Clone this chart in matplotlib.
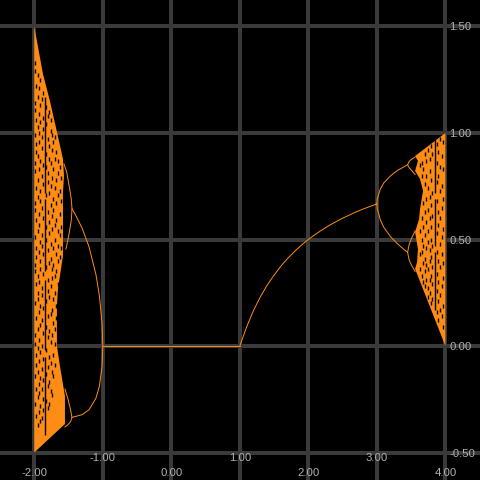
import matplotlib
matplotlib.use("Agg")
import matplotlib.pyplot as plt

ORANGE = '#ff8c14'
GRID = '#3a3a3a'
LABEL = '#b0b0b0'

x_ticks = [-2, -1, 0, 1, 2, 3, 4]
y_ticks = [-0.5, 0, 0.5, 1, 1.5]

# chaotic bands, outlines
left_band_r = [-2.0, -1.873, -1.771, -1.669, -1.581, -1.566, -1.581, -1.581, -1.581, -1.581,
               -1.654, -1.669, -1.669, -1.625, -1.552, -1.552, -2.0]
left_band_y = [1.5, 1.277, 1.15, 1.005, 0.878, 0.798, 0.723, 0.629, 0.535, 0.423,
               0.268, 0.188, 0.0, -0.094, -0.235, -0.366, -0.5]
right_band_r = [3.558, 4.0, 4.0, 3.558, 3.587, 3.6, 3.558, 3.616, 3.63, 3.674, 3.63, 3.558, 3.6]
right_band_y = [0.892, 1.0, 0.0, 0.362, 0.394, 0.455, 0.535, 0.596, 0.643, 0.728, 0.784, 0.822, 0.869]

# stable branches
fixed_r = [-1.0, 1.0]
fixed_y = [0.0, 0.0]
rise_r = [1.0, 1.1, 1.2, 1.3, 1.4, 1.5, 1.6, 1.7, 1.8, 1.9, 2.0, 2.1, 2.2, 2.3, 2.4, 2.5, 2.6, 2.7, 2.8, 2.9, 3.0]
rise_y = [0.0, 0.09, 0.167, 0.231, 0.286, 0.333, 0.375, 0.412, 0.444, 0.474, 0.5, 0.524, 0.545, 0.565, 0.583,
          0.6, 0.615, 0.63, 0.643, 0.655, 0.667]
neg_up_r = [-1.0, -1.01, -1.05, -1.1, -1.2, -1.3, -1.4, -1.449]
neg_up_y = [0.0, 0.104, 0.238, 0.336, 0.465, 0.552, 0.617, 0.644]
neg_low_r = [-1.0, -1.01, -1.05, -1.1, -1.2, -1.3, -1.4, -1.449]
neg_low_y = [0.0, -0.094, -0.19, -0.245, -0.299, -0.322, -0.331, -0.335]
neg_a_r = [-1.566, -1.527, -1.49, -1.46, -1.449, -1.46, -1.49, -1.537]
neg_a_y = [0.854, 0.817, 0.75, 0.69, 0.644, 0.59, 0.53, 0.455]
neg_b_r = [-1.552, -1.508, -1.47, -1.449, -1.47, -1.51, -1.552]
neg_b_y = [-0.202, -0.249, -0.3, -0.335, -0.355, -0.37, -0.38]
pos_up_r = [3.0, 3.005, 3.02, 3.05, 3.1, 3.2, 3.3, 3.4, 3.449]
pos_up_y = [0.667, 0.69, 0.705, 0.736, 0.765, 0.799, 0.824, 0.842, 0.851]
pos_low_r = [3.0, 3.005, 3.02, 3.05, 3.1, 3.2, 3.3, 3.4, 3.449]
pos_low_y = [0.667, 0.645, 0.63, 0.593, 0.558, 0.513, 0.48, 0.452, 0.44]
pos_a_r = [3.558, 3.5, 3.47, 3.449, 3.47, 3.5, 3.558]
pos_a_y = [0.887, 0.875, 0.866, 0.851, 0.838, 0.827, 0.805]
pos_b_r = [3.558, 3.5, 3.47, 3.449, 3.47, 3.5, 3.558]
pos_b_y = [0.54, 0.501, 0.475, 0.44, 0.405, 0.383, 0.35]

# gaps in the chaos: column -> heights of the dark specks
left_specks = {
    -1.985: [1.33, 1.29, 1.14, 1.11, 0.99, 0.86, 0.82, 0.67, 0.64, 0.51, 0.38, 0.35, 0.2, 0.05, 0.01, -0.14, -0.27],
    -1.968: [1.22, 1.06, 0.95, 0.91, 0.74, 0.59, 0.46, 0.42, 0.29, 0.13, -0.04, -0.09, -0.2, -0.33],
    -1.951: [1.27, 1.17, 1.03, 0.89, 0.78, 0.7, 0.54, 0.33, 0.25, 0.22, 0.08, -0.01, -0.12, -0.24, -0.37],
    -1.93: [1.21, 1.09, 1.0, 0.96, 0.83, 0.62, 0.57, 0.44, 0.3, 0.16, 0.03, -0.07, -0.18, -0.22, -0.31],
    -1.912: [1.25, 1.13, 1.05, 0.87, 0.73, 0.68, 0.49, 0.4, 0.36, 0.19, 0.1, -0.03, -0.15, -0.28, -0.35],
    -1.89: [1.16, 0.98, 0.93, 0.8, 0.65, 0.52, 0.47, 0.27, 0.24, 0.12, 0.0, -0.11, -0.2, -0.34],
    -1.87: [1.19, 1.07, 1.02, 0.85, 0.76, 0.6, 0.43, 0.34, 0.18, 0.06, -0.06, -0.16, -0.25, -0.3],
    -1.824: [1.12, 1.04, 0.9, 0.84, 0.71, 0.56, 0.5, 0.37, 0.21, 0.09, -0.02, -0.13, -0.26],
    -1.802: [1.08, 0.97, 0.81, 0.77, 0.63, 0.45, 0.31, 0.26, 0.14, 0.04, -0.1, -0.19, -0.29],
    -1.785: [1.1, 0.94, 0.88, 0.72, 0.58, 0.53, 0.39, 0.23, 0.07, -0.05, -0.17, -0.27],
    -1.76: [1.06, 1.01, 0.86, 0.75, 0.66, 0.48, 0.41, 0.28, 0.15, 0.02, -0.08, -0.21],
    -1.74: [0.99, 0.92, 0.79, 0.61, 0.55, 0.36, 0.32, 0.17, 0.05, -0.12, -0.23],
    -1.72: [0.96, 0.83, 0.69, 0.64, 0.46, 0.38, 0.22, 0.11, -0.04, -0.14],
    -1.70: [0.98, 0.88, 0.74, 0.57, 0.5, 0.33, 0.25, 0.08, 0.01, -0.09],
    -1.68: [0.91, 0.78, 0.67, 0.59, 0.43, 0.35, 0.19, 0.13],
    -1.655: [0.87, 0.81, 0.71, 0.54, 0.47, 0.4, 0.29],
    -1.63: [0.84, 0.73, 0.62, 0.52, 0.42],
    -1.61: [0.79, 0.68, 0.56, 0.46],
}
right_specks = {
    3.63: [0.85, 0.54, 0.43, 0.36],
    3.655: [0.86, 0.8, 0.6, 0.5, 0.44, 0.33],
    3.675: [0.83, 0.67, 0.56, 0.47, 0.39, 0.3],
    3.7: [0.9, 0.76, 0.63, 0.52, 0.41, 0.35, 0.28],
    3.72: [0.87, 0.8, 0.69, 0.58, 0.46, 0.38, 0.31],
    3.745: [0.92, 0.74, 0.64, 0.54, 0.49, 0.36, 0.27, 0.23],
    3.77: [0.88, 0.82, 0.7, 0.6, 0.45, 0.4, 0.31, 0.25],
    3.79: [0.94, 0.78, 0.66, 0.56, 0.5, 0.42, 0.33, 0.2],
    3.81: [0.9, 0.72, 0.61, 0.47, 0.37, 0.29, 0.22],
    3.875: [0.95, 0.86, 0.77, 0.68, 0.53, 0.44, 0.34, 0.26, 0.16],
    3.895: [0.91, 0.8, 0.63, 0.57, 0.4, 0.3, 0.21, 0.12],
    3.92: [0.97, 0.84, 0.73, 0.6, 0.48, 0.37, 0.24, 0.17],
    3.945: [0.89, 0.75, 0.65, 0.51, 0.43, 0.28, 0.14],
    3.97: [0.96, 0.83, 0.69, 0.55, 0.39, 0.32, 0.19, 0.09],
}

# periodic windows show up as dark vertical stripes, broken in places
left_window_r = -1.844
left_window_y = [(1.17, 0.72), (0.69, 0.35), (0.31, -0.02), (-0.05, -0.42)]
right_window_r = 3.85
right_window_y = [(0.97, 0.72), (0.69, 0.47), (0.44, 0.17)]

fig = plt.figure(figsize=(4.81, 4.81), dpi=100, facecolor='black')
ax = fig.add_axes([0, 0, 1, 1], facecolor='black')
ax.set_xlim(-2.5, 4.52)
ax.set_ylim(-0.629, 1.629)
ax.axis('off')

for t in x_ticks:
    ax.axvline(t, color=GRID, lw=2.88 if t == 0 else 1.6, zorder=1, antialiased=False)
for t in y_ticks:
    ax.axhline(t, color=GRID, lw=2.88 if t == 0 else 1.6, zorder=1, antialiased=False)

ax.fill(left_band_r, left_band_y, color=ORANGE, lw=0, zorder=2)
ax.fill(right_band_r, right_band_y, color=ORANGE, lw=0, zorder=2)

for top, bot in left_window_y:
    ax.plot([left_window_r] * 2, [top, bot], color='black', lw=1.0, zorder=3, solid_capstyle='butt')
for top, bot in right_window_y:
    ax.plot([right_window_r] * 2, [top, bot], color='black', lw=1.0, zorder=3, solid_capstyle='butt')

for specks in (left_specks, right_specks):
    for r, ys in specks.items():
        ax.scatter([r] * len(ys), ys, s=7, marker='|', color='black', linewidths=1.0, zorder=3)

for r, y in [(fixed_r, fixed_y), (rise_r, rise_y), (neg_up_r, neg_up_y), (neg_low_r, neg_low_y),
             (neg_a_r, neg_a_y), (neg_b_r, neg_b_y), (pos_up_r, pos_up_y), (pos_low_r, pos_low_y),
             (pos_a_r, pos_a_y), (pos_b_r, pos_b_y)]:
    ax.plot(r, y, color=ORANGE, lw=0.7, zorder=4)

# labels sit inside the plot, x ones staggered on two rows
for i, t in enumerate(x_ticks):
    ax.text(t, -0.592 if i % 2 == 0 else -0.521, f'{t:.2f}', color=LABEL, fontsize=8.2,
            family='Liberation Sans', ha='center', va='center', zorder=5)
for t in y_ticks:
    ax.text(4.055, t, f'{t:.2f}', color=LABEL, fontsize=8.2,
            family='Liberation Sans', ha='left', va='center', zorder=5)

fig.savefig('out.png', dpi=100, facecolor='black')
